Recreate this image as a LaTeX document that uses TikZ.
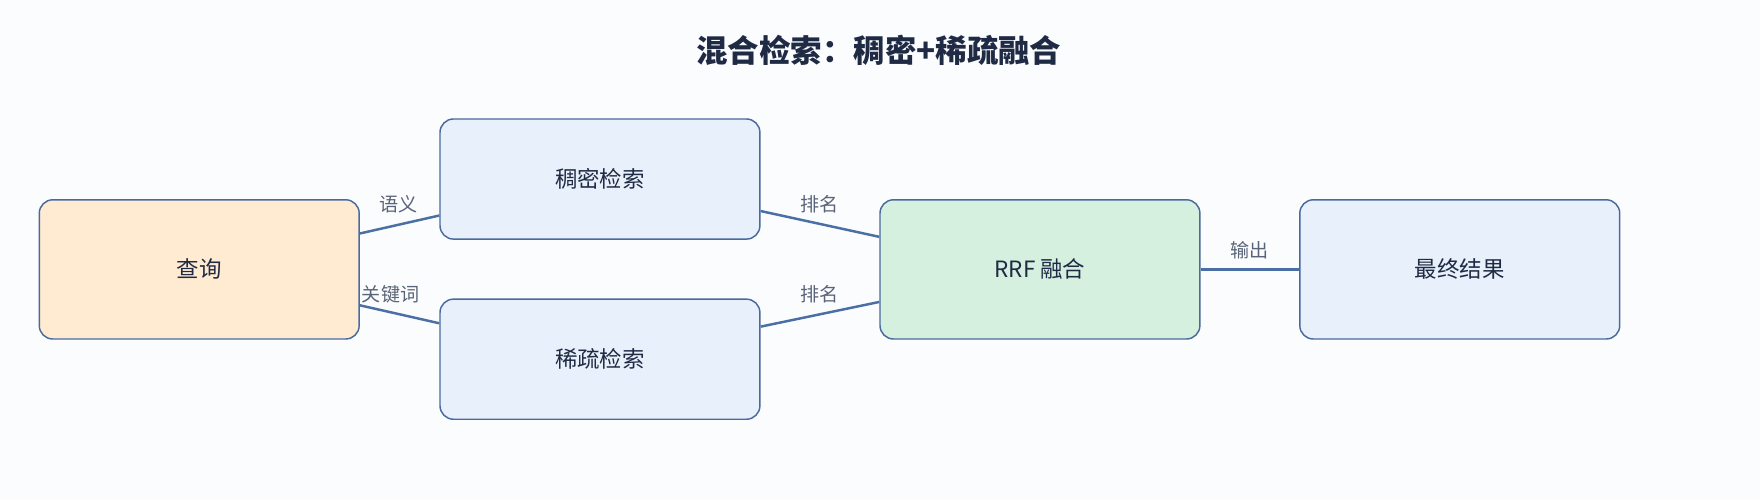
\documentclass[tikz,border=0pt]{standalone}
\usepackage{fontspec}
\setmainfont{Noto Sans CJK SC}
\usetikzlibrary{calc}
\definecolor{bg}{HTML}{FBFCFE}
\definecolor{bd}{HTML}{4A6A9E}
\definecolor{ln}{HTML}{4A6FA5}
\definecolor{fq}{HTML}{FFEBD2}
\definecolor{fb}{HTML}{E8F0FB}
\definecolor{fg}{HTML}{D5F0DF}
\definecolor{tx}{HTML}{1F2A44}
\definecolor{lb}{HTML}{5A6478}
\tikzset{
  box/.style={draw=bd, line width=1.3pt, rounded corners=12pt, minimum width=285pt, text=tx, font=\fontsize{20}{24}\selectfont},
  conn/.style={draw=ln, line width=2.2pt},
  lab/.style={text=lb, font=\fontsize{17}{20}\selectfont}
}
\begin{document}
\begin{tikzpicture}[x=1pt,y=-1pt]
\fill[bg] (0,0) rectangle (1568,445.5);
\useasboundingbox (0,0) rectangle (1568,445.5);
\node[font=\bfseries\fontsize{28}{32}\selectfont, text=tx] (title) at (783,45) {混合检索：稠密+稀疏融合};
\node[box, fill=fq, minimum height=124pt] (q) at (177.5,240) {查询};
\node[box, fill=fb, minimum height=107pt] (d) at (534.5,159.5) {稠密检索};
\node[box, fill=fb, minimum height=107pt] (s) at (534.5,320) {稀疏检索};
\node[box, fill=fg, minimum height=124pt] (r) at (926.5,240) {RRF 融合};
\node[box, fill=fb, minimum height=124pt] (f) at (1300.5,240) {最终结果};
\draw[conn] ($(q.east)+(0,32pt)$) -- ($(d.west)+(0,-32.5pt)$);
\draw[conn] ($(q.east)+(0,-32pt)$) -- ($(s.west)+(0,32pt)$);
\draw[conn] ($(d.east)+(0,-28.5pt)$) -- ($(r.west)+(0,29pt)$);
\draw[conn] ($(s.east)+(0,29pt)$) -- ($(r.west)+(0,-29pt)$);
\draw[conn] (r.east) -- (f.west);
\node[lab] (l1) at (355,182) {语义};
\node[lab] (l2) at (348,262) {关键词};
\node[lab] (l3) at (730,182) {排名};
\node[lab] (l4) at (730,262) {排名};
\node[lab] (l5) at (1113,223) {输出};
\end{tikzpicture}
\end{document}
